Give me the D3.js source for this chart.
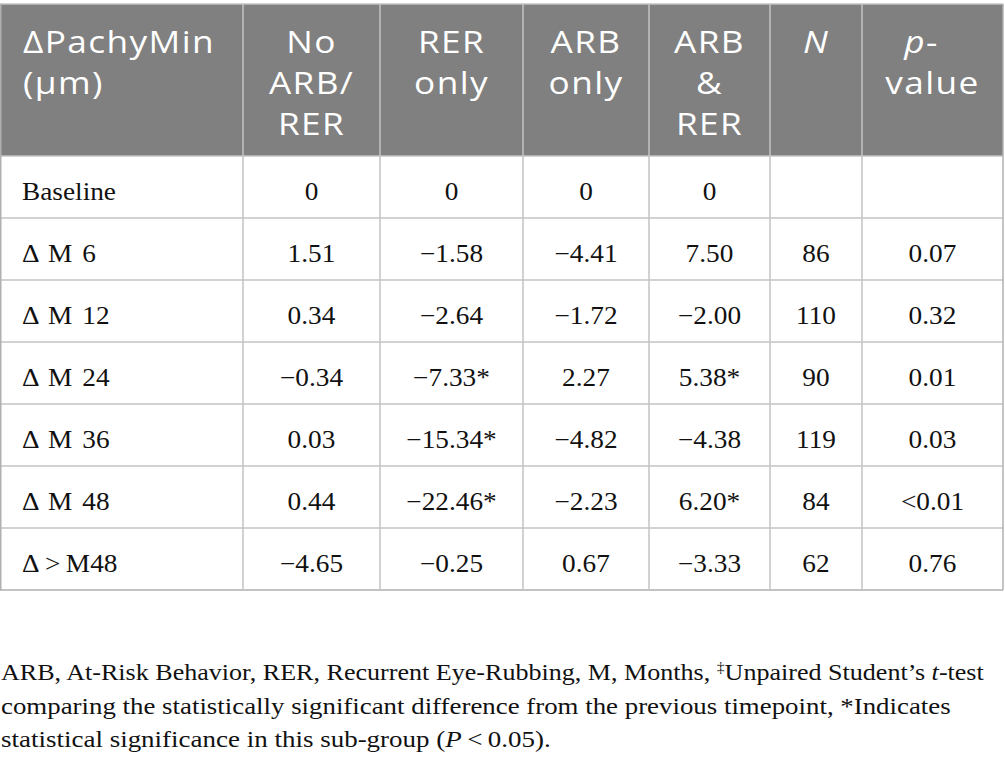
<!DOCTYPE html>
<html>
<head>
<meta charset="utf-8">
<script src="https://cdn.jsdelivr.net/npm/d3@7"></script>
<style>
  html, body { margin: 0; padding: 0; background: #fff; }
  svg { display: block; }
</style>
</head>
<body>
<svg id="chart" width="1005" height="767"></svg>
<script>
// ---------- DATA ----------
const headerLines = [
  [[{t: "\u0394PachyMin"}], [{t: "(\u03bcm)"}]],
  [[{t: "No"}], [{t: "ARB/"}], [{t: "RER"}]],
  [[{t: "RER"}], [{t: "only"}]],
  [[{t: "ARB"}], [{t: "only"}]],
  [[{t: "ARB"}], [{t: "&"}], [{t: "RER"}]],
  [[{t: "N", it: true}]],
  [[{t: "p", it: true}, {t: "-"}], [{t: "value"}]]
];
const rowLabels = ["Baseline", "\u0394 M 6", "\u0394 M 12", "\u0394 M 24", "\u0394 M 36", "\u0394 M 48", "\u0394\u2009>\u2009M48"];
const noArbRer = [0, 1.51, 0.34, -0.34, 0.03, 0.44, -4.65];
const rerOnly  = [0, -1.58, -2.64, -7.33, -15.34, -22.46, -0.25];
const arbOnly  = [0, -4.41, -1.72, 2.27, -4.82, -2.23, 0.67];
const arbRer   = [0, 7.50, -2.00, 5.38, -4.38, 6.20, -3.33];
const rerOnlySig = [false, false, false, true, true, true, false];
const arbRerSig  = [false, false, false, true, false, true, false];
const nValues  = [null, 86, 110, 90, 119, 84, 62];
const pValues  = ["", "0.07", "0.32", "0.01", "0.03", "<0.01", "0.76"];
const footnoteLines = [
  [{t: "ARB, At-Risk Behavior, RER, Recurrent Eye-Rubbing, M, Months, "}, {t: "\u2021", sup: true}, {t: "Unpaired Student\u2019s "}, {t: "t", it: true}, {t: "-test"}],
  [{t: "comparing the statistically significant difference from the previous timepoint, *Indicates"}],
  [{t: "statistical significance in this sub-group ("}, {t: "P", it: true}, {t: "\u2009<\u20090.05)."}]
];

// ---------- LAYOUT ----------
const W = 1005, H = 767;
const colEdges = [0, 243, 380, 523, 649, 770, 862, 1003];
const headerTop = 4, headerBottom = 156, tableBottom = 590;
const gridColor = "#c3c3c3";
const headerBg = "#808080";
const headerFont = "'Open Sans', 'Noto Sans', sans-serif";
const bodyFont = "'Liberation Serif', 'DejaVu Serif', serif";

const svg = d3.select("#chart");
svg.append("rect").attr("width", W).attr("height", H).attr("fill", "#fff");

const y = d3.scaleBand().domain(d3.range(rowLabels.length)).range([headerBottom, tableBottom]);
const colC = i => (colEdges[i] + colEdges[i + 1]) / 2;

function measure(txt, font, size, ls) {
  const t = svg.append("text").attr("font-family", font).attr("font-size", size)
    .attr("letter-spacing", ls || 0).text(txt);
  const w = t.node().getComputedTextLength();
  t.remove();
  return w;
}
const hSize = 30.5, hLS = 1.2;
const hScale = 192 / measure("\u0394PachyMin", headerFont, hSize, hLS);
const bSize = 25.5;
const bScale = 94 / measure("Baseline", bodyFont, bSize);

// header background
svg.append("rect").attr("x", 0).attr("y", headerTop).attr("width", colEdges[colEdges.length - 1])
  .attr("height", headerBottom - headerTop).attr("fill", headerBg);

// header text
const hg = svg.append("g");
headerLines.forEach((lines, ci) => {
  lines.forEach((parts, li) => {
    const ax = ci === 0 ? 23 : colC(ci) + (ci === 6 && li === 0 ? -11 : 0);
    const t = hg.append("text")
      .attr("transform", `translate(${ax},${53 + li * 41}) scale(${hScale},1)`)
      .attr("font-family", headerFont).attr("font-size", hSize).attr("fill", "#fff")
      .attr("letter-spacing", hLS)
      .attr("text-anchor", ci === 0 ? "start" : "middle");
    parts.forEach(p => {
      const s = t.append("tspan").text(p.t);
      if (p.it) s.attr("font-style", "italic");
    });
  });
});

// body cells
const fmt = d3.format(".2f");
function cellText(v, sig, ri) {
  if (v === null) return "";
  if (ri === 0) return "0";
  return fmt(v) + (sig ? "*" : "");
}
const rowsData = rowLabels.map((lab, ri) => [
  lab,
  cellText(noArbRer[ri], false, ri),
  cellText(rerOnly[ri], rerOnlySig[ri], ri),
  cellText(arbOnly[ri], false, ri),
  cellText(arbRer[ri], arbRerSig[ri], ri),
  nValues[ri] === null ? "" : String(nValues[ri]),
  pValues[ri]
]);

const bg = svg.append("g");
rowsData.forEach((cells, ri) => {
  cells.forEach((c, ci) => {
    const ax = ci === 0 ? 22 : colC(ci);
    bg.append("text")
      .attr("transform", `translate(${ax},${y(ri) + 44}) scale(${bScale},1)`)
      .attr("text-anchor", ci === 0 ? "start" : "middle")
      .attr("font-family", bodyFont).attr("font-size", bSize)
      .attr("word-spacing", ci === 0 ? 3 : 0)
      .attr("fill", "#111")
      .text(c);
  });
});

// grid lines
const gl = svg.append("g").attr("stroke", gridColor).attr("stroke-width", 1.5);
gl.append("line").attr("x1", 0).attr("x2", colEdges[7]).attr("y1", headerTop).attr("y2", headerTop);
rowLabels.forEach((_, ri) => {
  gl.append("line").attr("x1", 0).attr("x2", colEdges[7]).attr("y1", y(ri)).attr("y2", y(ri));
});
gl.append("line").attr("x1", 0).attr("x2", colEdges[7]).attr("y1", tableBottom).attr("y2", tableBottom)
  .attr("stroke-width", 2.2);
colEdges.forEach((x, i) => {
  const xx = x + (i === 0 ? 0.75 : 0);
  gl.append("line").attr("x1", xx).attr("x2", xx)
    .attr("y1", headerTop).attr("y2", tableBottom)
    .attr("stroke", i === 0 || i === 7 ? "#b0b0b0" : gridColor);
});

// footnote
const fnSize = 23;
const fnTargets = [983, 950, 550];
const fg = svg.append("g");
footnoteLines.forEach((parts, li) => {
  const t = fg.append("text")
    .attr("font-family", bodyFont).attr("font-size", fnSize).attr("fill", "#111");
  parts.forEach((p, i) => {
    const s = t.append("tspan").text(p.t);
    if (p.it) s.attr("font-style", "italic");
    if (p.sup) s.attr("font-size", fnSize * 0.6).attr("dy", -8);
    if (i > 0 && parts[i - 1].sup) s.attr("dy", 8);
  });
  const w = t.node().getComputedTextLength();
  const sx = fnTargets[li] / w;
  t.attr("transform", `translate(1,${680 + li * 33.5}) scale(${sx},1)`);
});
</script>
</body>
</html>
